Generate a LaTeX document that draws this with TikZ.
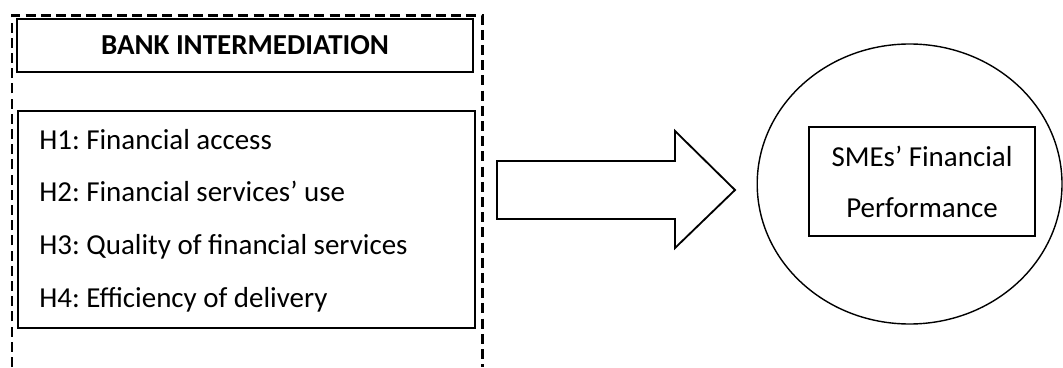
\documentclass[tikz,border=0pt]{standalone}
\usepackage{fontspec}
\setmainfont{Carlito}
\usepackage{tikz}
\usetikzlibrary{arrows,shapes.geometric}
\frenchspacing

\tikzset{
  boxline/.style={draw, line width=1.3pt},
  hyptext/.style={anchor=base west, inner sep=0pt, font=\fontsize{20.6}{24}\selectfont},
  smetext/.style={anchor=base, inner sep=0pt, font=\fontsize{20.6}{24}\selectfont},
  outline/.style={line width=2pt, dash pattern=on 0.25cm off 0.13cm}
}

\begin{document}
\begin{tikzpicture}
\useasboundingbox (0,0) rectangle (26.575,9.175);
\draw[outline] (0.3,0) -- (0.3,8.78) -- (12.07,8.78) -- (12.07,0);
\draw[boxline] (0.425,7.375) rectangle (11.825,8.7);
\draw (6.125,7.8) node[anchor=base, inner sep=0pt, font=\fontsize{20.6}{24}\selectfont\bfseries] (title) {BANK INTERMEDIATION};
\draw[boxline] (0.45,0.975) rectangle (11.875,6.4);
\draw (0.975,5.425) node[hyptext] (h1) {H1: Financial access};
\draw (0.975,4.125) node[hyptext] (h2) {H2: Financial services’ use};
\draw (0.975,2.8) node[hyptext] (h3) {H3: Quality of financial services};
\draw (0.975,1.475) node[hyptext] (h4) {H4: Efficiency of delivery};
\draw[line width=1.3pt, line join=miter] (12.425,5.15) -- (16.875,5.15) -- (16.875,5.9) -- (18.375,4.425)
  -- (16.875,2.975) -- (16.875,3.7) -- (12.425,3.7) -- cycle;
\draw (22.74,4.575) node[draw, ellipse, line width=1pt, minimum width=7.62cm, minimum height=7.0cm] (perf) {};
\draw[boxline] (20.225,3.275) rectangle (25.875,6.0);
\draw (23.05,5.0) node[smetext] (sme1) {SMEs’ Financial};
\draw (23.05,3.725) node[smetext] (sme2) {Performance};
\end{tikzpicture}
\end{document}
